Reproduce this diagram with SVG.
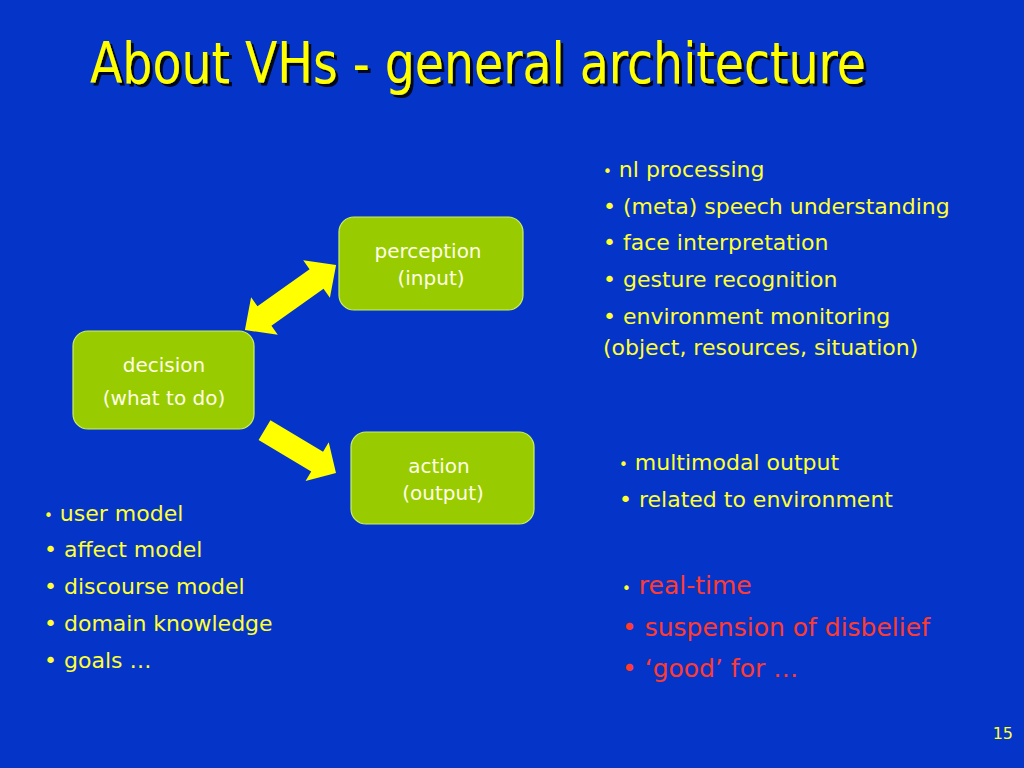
<svg xmlns="http://www.w3.org/2000/svg" width="1024" height="768" viewBox="0 0 1024 768">
<style>
.t{font-family:"DejaVu Sans",Verdana,sans-serif;}
.y{fill:#FFFF33;}
.r{fill:#FF3B30;}
.body{font-size:22px;}
.red{font-size:25px;}
.node rect{fill:#99CC00;stroke:#CCEE66;stroke-width:1.2;}
.nt{font-family:"DejaVu Sans",Verdana,sans-serif;font-size:20px;fill:#FFFFE6;text-anchor:middle;}
.arrow{fill:#FFFF00;}
</style>
<defs>
<filter id="shadow" x="-5%" y="-20%" width="110%" height="150%">
<feDropShadow dx="3" dy="3" stdDeviation="0.6" flood-color="#000000" flood-opacity="0.85"/>
</filter>
</defs>
<rect width="1024" height="768" fill="#0535C8"/>
<g id="title">
<text x="90" y="83" font-family="'DejaVu Sans Condensed','DejaVu Sans',sans-serif" font-size="57" fill="#FFFF00" filter="url(#shadow)" textLength="776" lengthAdjust="spacingAndGlyphs">About VHs - general architecture</text>
</g>
<g id="connectors">
<polygon class="arrow" transform="translate(290.5,297.5) rotate(-35.5)" points="-56,0 -32,-23 -32,-12 32,-12 32,-23 56,0 32,23 32,12 -32,12 -32,23"/>
<polygon class="arrow" transform="translate(300.25,451.5) rotate(31)" points="-41.7,-11.5 19.7,-11.5 19.7,-22.5 41.7,0 19.7,22.5 19.7,11.5 -41.7,11.5"/>
</g>
<g id="perception" class="node">
<rect x="339" y="217" width="184" height="93" rx="15"/>
<text class="nt" x="428" y="258">perception</text>
<text class="nt" x="431" y="285">(input)</text>
</g>
<g id="decision" class="node">
<rect x="73" y="331" width="181" height="98" rx="15"/>
<text class="nt" x="164" y="372">decision</text>
<text class="nt" x="164" y="405">(what to do)</text>
</g>
<g id="action" class="node">
<rect x="351" y="432" width="183" height="92" rx="15"/>
<text class="nt" x="439" y="473">action</text>
<text class="nt" x="443" y="500">(output)</text>
</g>
<g id="perception-list" class="t y body">
<text x="603" y="177"><tspan font-size="15">•</tspan> nl processing</text>
<text x="603" y="214">• (meta) speech understanding</text>
<text x="603" y="250">• face interpretation</text>
<text x="603" y="287">• gesture recognition</text>
<text x="603" y="324">• environment monitoring</text>
<text x="603" y="355">(object, resources, situation)</text>
</g>
<g id="action-list" class="t y body">
<text x="619" y="470"><tspan font-size="15">•</tspan> multimodal output</text>
<text x="619" y="507">• related to environment</text>
</g>
<g id="properties-list" class="t red">
<text x="622" y="594"><tspan class="y" font-size="15">•</tspan> <tspan class="r">real-time</tspan></text>
<text x="622" y="636" class="r">• suspension of disbelief</text>
<text x="622" y="677" class="r">• ‘good’ for  …</text>
</g>
<g id="decision-list" class="t y body">
<text x="44" y="521"><tspan font-size="15">•</tspan> user model</text>
<text x="44" y="557">• affect model</text>
<text x="44" y="594">• discourse model</text>
<text x="44" y="631">• domain knowledge</text>
<text x="44" y="668">• goals …</text>
</g>
<text class="t y" x="1013" y="739" font-size="16" text-anchor="end">15</text>
</svg>
